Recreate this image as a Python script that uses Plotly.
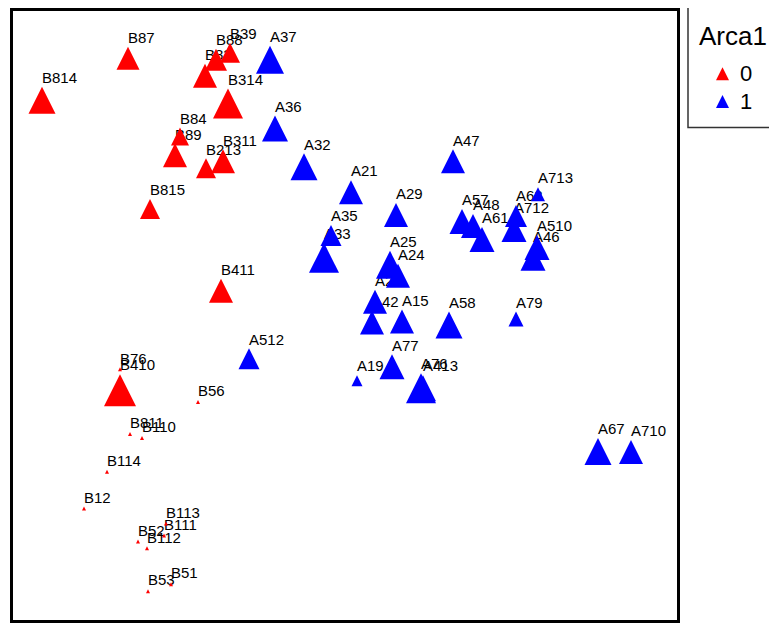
import plotly.graph_objects as go

# ---- data (ordination scores, arbitrary units; point = top of triangle) ----
red_labels = ["B814", "B87", "B39", "B88", "B83", "B314", "B84", "B89", "B311", "B213",
              "B815", "B411", "B76", "B410", "B56", "B811", "B110", "B114", "B12",
              "B113", "B111", "B52", "B112", "B51", "B53"]
red_x = [32, 118, 220, 206, 195, 218, 170, 165, 213, 196,
         140, 211, 110, 110, 188, 120, 132, 97, 74,
         156, 154, 128, 137, 161, 138]
red_y = [537, 577, 581, 575, 560, 535, 496, 480, 474, 465,
         424, 344, 255, 248, 222, 190, 186, 152, 115,
         100, 88, 82, 75, 39, 32]
red_size = [27, 23, 20, 22, 24, 30, 18, 24, 24, 20,
            20, 24, 4, 32, 4, 4, 4, 4, 4,
            4, 4, 4, 4, 4, 4]

blue_labels = ["A37", "A36", "A32", "A47", "A21", "A29", "A35", "A33", "A25", "A24",
               "A28", "A42", "A15", "A58", "A79", "A77", "A19", "A76", "A413", "A57",
               "A48", "A614", "A62", "A712", "A713", "A510", "A46", "A67", "A710", "A512"]
blue_x = [260, 265, 294, 443, 341, 386, 321, 314, 380, 388,
          365, 362, 392, 439, 506, 382, 347, 411, 413, 452,
          463, 472, 506, 504, 528, 527, 523, 588, 621, 239]
blue_y = [578, 508, 470, 474, 443, 420, 398, 380, 372, 359,
          333, 312, 313, 311, 311, 268, 247, 249, 247, 414,
          409, 396, 418, 406, 436, 388, 377, 184, 182, 274]
blue_size = [28, 26, 27, 24, 24, 24, 21, 30, 28, 24,
             24, 24, 24, 27, 15, 25, 11, 30, 26, 25,
             24, 25, 22, 25, 14, 25, 25, 27, 24, 21]

legend_title = "Arca1"
groups = ["0", "1"]
colors = ["#FF0000", "#0000FF"]

FONT = "Liberation Sans, Arial, sans-serif"

# page has an 8px body margin: figure is placed at (8, 8)
OFF = 8
W, H = 769, 617
PL, PR, PT, PB = 13, 677, 8, 620          # plot area in page pixels
ML, MR, MT, MB = PL - OFF, W - (PR - OFF), PT - OFF, H - (PB - OFF)


def px_x(p):
    return (p - PL) / (PR - PL)


def px_y(p):
    return (PB - p) / (PB - PT)


fig = go.Figure()

# point labels (drawn beneath the markers)
fig.add_trace(go.Scatter(
    x=red_x + blue_x, y=red_y + blue_y, text=red_labels + blue_labels,
    mode="text", textposition="top right",
    textfont=dict(family=FONT, size=15, color="black"),
    hoverinfo="skip", showlegend=False, cliponaxis=False,
))

for lab, xs, ys, ss, col in [(groups[0], red_x, red_y, red_size, colors[0]),
                             (groups[1], blue_x, blue_y, blue_size, colors[1])]:
    fig.add_trace(go.Scatter(
        x=xs, y=ys, mode="markers", name=lab, showlegend=False,
        marker=dict(symbol="arrow-up", size=ss, sizemode="diameter", opacity=1,
                    color=col, line=dict(width=0)),
        cliponaxis=False,
    ))

# manual legend box
shapes = [dict(type="rect", xref="paper", yref="paper",
               x0=px_x(688), x1=px_x(800), y0=px_y(125), y1=px_y(4),
               line=dict(color="#333333", width=1.5), fillcolor="white", layer="below")]
annotations = [dict(text=legend_title, xref="paper", yref="paper",
                    x=px_x(732.5), y=px_y(33), xanchor="center", yanchor="middle",
                    showarrow=False, font=dict(family=FONT, size=26, color="black"))]
for i, (g, c) in enumerate(zip(groups, colors)):
    cy = 71 + i * 28
    apex, base = cy - 6.5, cy + 6.5
    path = "M {:.5f},{:.5f} L {:.5f},{:.5f} L {:.5f},{:.5f} Z".format(
        px_x(716), px_y(base), px_x(729), px_y(base), px_x(722.5), px_y(apex))
    shapes.append(dict(type="path", xref="paper", yref="paper", path=path,
                       fillcolor=c, line=dict(width=0)))
    annotations.append(dict(text=g, xref="paper", yref="paper",
                            x=px_x(738), y=px_y(cy), xanchor="left", yanchor="middle",
                            showarrow=False, font=dict(family=FONT, size=22, color="black")))

axis_common = dict(showticklabels=False, ticks="", showgrid=False, zeroline=False,
                   showline=True, mirror=True, linecolor="black", linewidth=3)

fig.update_layout(
    width=W, height=H,
    margin=dict(l=ML, r=MR, t=MT, b=MB, pad=0),
    paper_bgcolor="white", plot_bgcolor="white",
    xaxis=dict(range=[3, 667], **axis_common),
    yaxis=dict(range=[1, 613], **axis_common),
    shapes=shapes, annotations=annotations,
    showlegend=False,
)

fig.write_html("out.html")
